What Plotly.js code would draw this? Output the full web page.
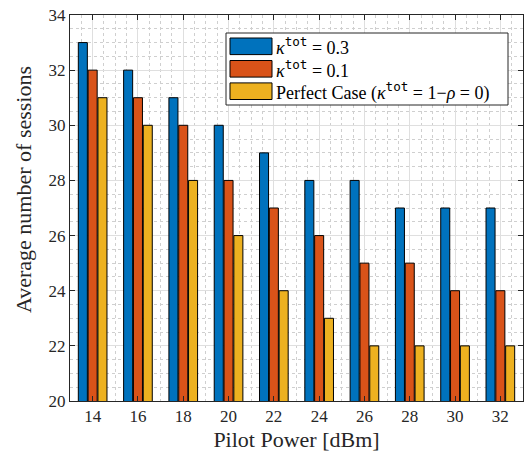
<!DOCTYPE html>
<html>
<head>
<meta charset="utf-8">
<script src="https://cdn.plot.ly/plotly-3.0.1.min.js"></script>
<style>html,body{margin:0;padding:0;background:#fff;}#chart{width:526px;height:456px;}</style>
</head>
<body>
<div id="chart"></div>
<script>
const pilotPower = [14, 16, 18, 20, 22, 24, 26, 28, 30, 32];
const kappa03 = [33, 32, 31, 30, 29, 28, 28, 27, 27, 27];
const kappa01 = [32, 31, 30, 28, 27, 26, 25, 25, 24, 24];
const perfect = [31, 30, 28, 26, 24, 23, 22, 22, 22, 22];
const xTitle = 'Pilot Power [dBm]';
const yTitle = 'Average number of sessions';
const kap = "<i>κ</i><sup><span style='font-family:DejaVu Sans Mono'>tot</span></sup>";
const seriesNames = [
  kap + " = 0.3",
  kap + " = 0.1",
  "Perfect Case (" + kap + " = 1−<i>ρ</i> = 0)"
];
const colors = ["#0072BD", "#D95319", "#EDB120"];
const allSeries = [kappa03, kappa01, perfect];

const W = 526, H = 456;
const M = {l: 70, r: 3, t: 15, b: 55};
const pw = W - M.l - M.r, ph = H - M.t - M.b;
const px = v => (v - M.l) / pw;
const py = v => (H - M.b - v) / ph;

const traces = allSeries.map((s, i) => ({
  type: 'bar', x: pilotPower, y: s, name: seriesNames[i],
  marker: {color: colors[i], line: {color: '#000', width: 1}},
  showlegend: false
}));

const font = "Liberation Serif";
const shapes = [{type: 'rect', xref: 'paper', yref: 'paper', x0: px(226), x1: px(508), y0: py(105), y1: py(33),
  line: {color: '#262626', width: 1}, fillcolor: '#fff', layer: 'above'}];
const annotations = [];
const rowsY = [46.3, 68.8, 91.2];
rowsY.forEach((cy, i) => {
  shapes.push({type: 'rect', xref: 'paper', yref: 'paper', x0: px(230), x1: px(272), y0: py(cy + 8.3), y1: py(cy - 8.3),
    line: {color: '#000', width: 1}, fillcolor: colors[i], layer: 'above'});
  annotations.push({xref: 'paper', yref: 'paper', x: px(274), y: py(cy), xanchor: 'left', yanchor: 'middle',
    text: seriesNames[i], showarrow: false, font: {family: font, size: 18, color: '#000'}});
});
annotations.push({xref: 'paper', yref: 'paper', x: px(24), y: py(190), xanchor: 'center', yanchor: 'middle',
  textangle: -90, text: yTitle, showarrow: false, font: {family: font, size: 22, color: '#262626'}});

const axCommon = {
  showline: true, mirror: 'ticks', linecolor: '#262626', linewidth: 1,
  ticks: 'inside', ticklen: 5, tickcolor: '#262626',
  showgrid: true, gridcolor: '#dfdfdf', gridwidth: 1, zeroline: false,
  tickfont: {family: font, size: 17, color: '#262626'},
  minor: {dtick: 0.5, showgrid: true, gridcolor: '#cfcfcf', griddash: 'dot', gridwidth: 1, ticks: ''}
};

const layout = {
  width: W, height: H, margin: M,
  paper_bgcolor: '#fff', plot_bgcolor: '#fff',
  font: {family: font},
  barmode: 'group', bargap: 0.35, bargroupgap: 0.08,
  showlegend: false,
  xaxis: Object.assign({}, axCommon, {range: [13, 33], tick0: 14, dtick: 2,
    title: {text: xTitle, font: {family: font, size: 22, color: '#262626'}, standoff: 6}}),
  yaxis: Object.assign({}, axCommon, {range: [20, 34], tick0: 20, dtick: 2}),
  shapes: shapes, annotations: annotations
};
Plotly.newPlot('chart', traces, layout, {displayModeBar: false, staticPlot: true});
</script>
</body>
</html>
